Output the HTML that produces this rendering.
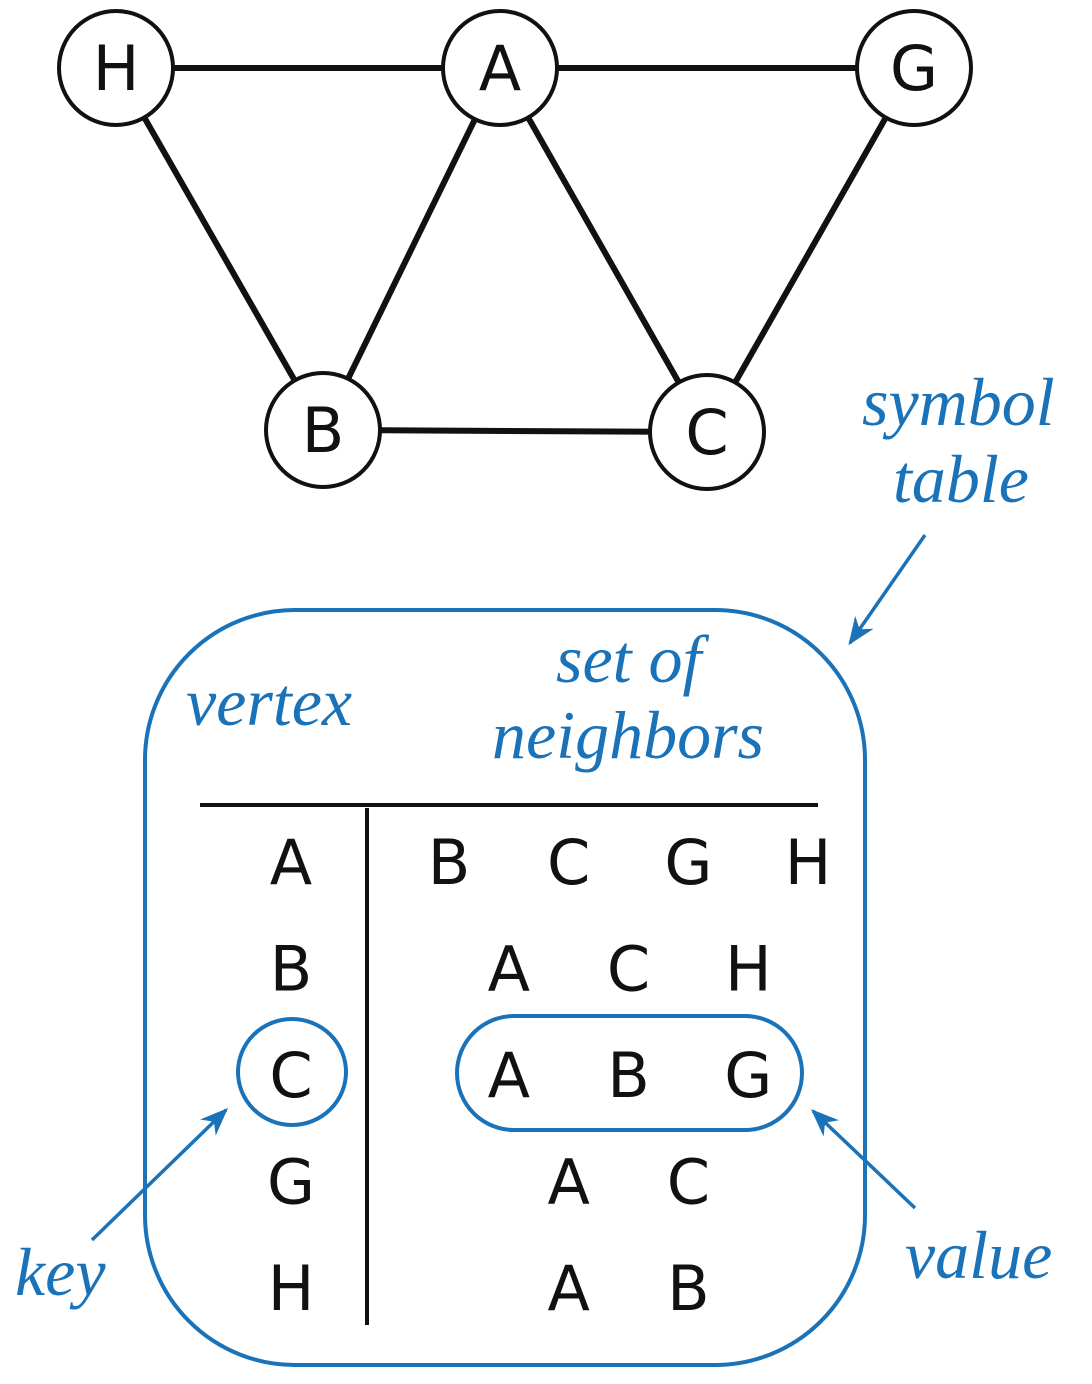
<!DOCTYPE html>
<html><head><meta charset="utf-8"><style>
html,body{margin:0;padding:0;background:#fff;}
svg{display:block;}
.lab{font-family:"DejaVu Sans","Liberation Sans",sans-serif;font-size:62px;fill:#111;text-anchor:middle;}
.it{font-family:"Liberation Serif",serif;font-style:italic;font-size:68px;fill:#1a72b8;}
</style></head><body>
<svg id="s" width="1092" height="1384" viewBox="0 0 1092 1384">
<defs><marker id="ah" viewBox="0 0 10 10" refX="9" refY="5" markerWidth="8" markerHeight="8" orient="auto"><path d="M0,1 L10,5 L0,9 L3,5 Z" fill="#1a72b8"/></marker></defs>
<g id="graph"></g>
<rect x="145" y="610" width="720" height="755" rx="150" fill="none" stroke="#1a72b8" stroke-width="4"/>
<line x1="200" y1="805" x2="818" y2="805" stroke="#111" stroke-width="4"/>
<line x1="367" y1="808" x2="367" y2="1325" stroke="#111" stroke-width="4"/>
<g id="table"></g>
<ellipse cx="292" cy="1072" rx="54" ry="53" fill="none" stroke="#1a72b8" stroke-width="4"/>
<rect x="457" y="1016" width="345" height="114" rx="57" fill="none" stroke="#1a72b8" stroke-width="4"/>
<line x1="925" y1="535" x2="850" y2="643" stroke="#1a72b8" stroke-width="3.5" marker-end="url(#ah)"/>
<line x1="92" y1="1240" x2="226" y2="1110" stroke="#1a72b8" stroke-width="3.5" marker-end="url(#ah)"/>
<line x1="915" y1="1208" x2="813" y2="1111" stroke="#1a72b8" stroke-width="3.5" marker-end="url(#ah)"/>
<text class="it" x="862" y="425">symbol</text>
<text class="it" x="893" y="502">table</text>
<text class="it" x="186" y="725">vertex</text>
<text class="it" x="556" y="682">set of</text>
<text class="it" x="492" y="758">neighbors</text>
<text class="it" x="15" y="1295">key</text>
<text class="it" x="905" y="1278">value</text>
</svg>
<script>
const nodeNames=["H","A","G","B","C"];
const nodeX=[116,500,914,323,707];
const nodeY=[68,68,68,430,432];
const edges=[["H","A"],["A","G"],["H","B"],["A","B"],["A","C"],["G","C"],["B","C"]];
const keys=["A","B","C","G","H"];
const values=[["B","C","G","H"],["A","C","H"],["A","B","G"],["A","C"],["A","B"]];
const NS="http://www.w3.org/2000/svg";
const g=document.getElementById("graph");
const R=57;
function pos(n){const i=nodeNames.indexOf(n);return [nodeX[i],nodeY[i]];}
edges.forEach(e=>{const a=pos(e[0]),b=pos(e[1]);const l=document.createElementNS(NS,"line");
l.setAttribute("x1",a[0]);l.setAttribute("y1",a[1]);l.setAttribute("x2",b[0]);l.setAttribute("y2",b[1]);
l.setAttribute("stroke","#111");l.setAttribute("stroke-width","6");


g.appendChild(l);});
nodeNames.forEach((n,i)=>{const c=document.createElementNS(NS,"circle");
c.setAttribute("cx",nodeX[i]);c.setAttribute("cy",nodeY[i]);c.setAttribute("r",R);
c.setAttribute("fill","#fff");c.setAttribute("stroke","#111");c.setAttribute("stroke-width","4");


g.appendChild(c);
const t=document.createElementNS(NS,"text");t.setAttribute("class","lab");
t.setAttribute("x",nodeX[i]);t.setAttribute("y",nodeY[i]+22);t.textContent=n;


g.appendChild(t);});
const tb=document.getElementById("table");
const rowY0=884,rowStep=106.5,colX=[449,569,688,808];
keys.forEach((k,i)=>{const y=rowY0+i*rowStep;
const t=document.createElementNS(NS,"text");t.setAttribute("class","lab");t.setAttribute("x",291);t.setAttribute("y",y);t.textContent=k;


tb.appendChild(t);
const v=values[i];const off=(4-v.length)/2;
v.forEach((n,j)=>{const x=449+(j+off)*119.7;const u=document.createElementNS(NS,"text");u.setAttribute("class","lab");
u.setAttribute("x",x);u.setAttribute("y",y);u.textContent=n;


tb.appendChild(u);});});
</script>
</body></html>
